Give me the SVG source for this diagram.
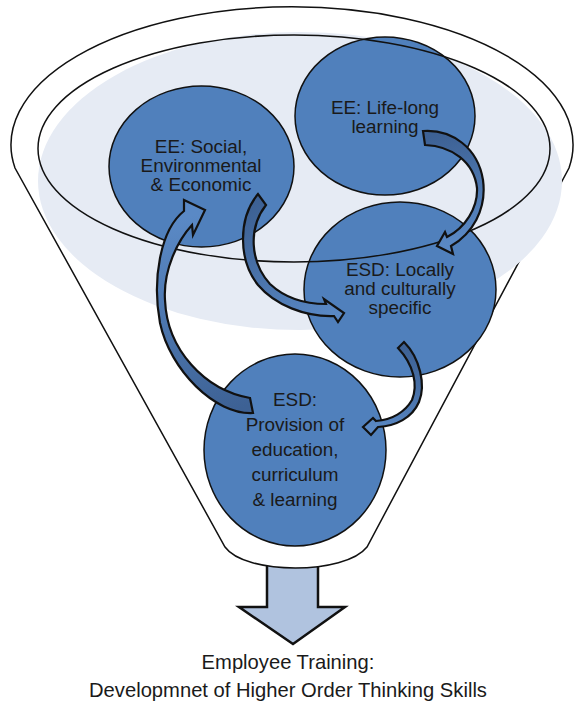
<svg xmlns="http://www.w3.org/2000/svg" width="575" height="703" viewBox="0 0 575 703">
<style>
.outline{fill:none;stroke:#111;stroke-width:1.5}
.node{fill:#5080bc;stroke:#111;stroke-width:1.5}
.arrow{stroke:#111;stroke-width:2.2;stroke-linejoin:miter}
.t{font-family:"Liberation Sans",Arial,sans-serif;font-size:18.9px;fill:#1a1a1a;text-anchor:middle}
.cap{font-family:"Liberation Sans",Arial,sans-serif;font-size:20.2px;fill:#1a1a1a;text-anchor:middle}
</style>
<defs>
<linearGradient id="g1" gradientUnits="userSpaceOnUse" x1="425" y1="138" x2="445" y2="245"><stop offset="0" stop-color="#3d6194"/><stop offset="1" stop-color="#5a89c5"/></linearGradient>
<linearGradient id="g2" gradientUnits="userSpaceOnUse" x1="262" y1="200" x2="340" y2="312"><stop offset="0" stop-color="#3d6194"/><stop offset="1" stop-color="#5a89c5"/></linearGradient>
<linearGradient id="g3" gradientUnits="userSpaceOnUse" x1="252" y1="405" x2="195" y2="215"><stop offset="0" stop-color="#3d6194"/><stop offset="1" stop-color="#5a89c5"/></linearGradient>
<linearGradient id="g4" gradientUnits="userSpaceOnUse" x1="401" y1="345" x2="368" y2="427"><stop offset="0" stop-color="#3d6194"/><stop offset="1" stop-color="#5a89c5"/></linearGradient>
</defs>

<g id="spout">
<path d="M267,560 L267,607 L239,607 L293,644 L345,607 L318,607 L318,560 Z" fill="#b0c3df" stroke="#111" stroke-width="2.5" stroke-linejoin="miter"/>
</g>

<g id="funnel">
<path d="M15,168 A281,138 0 1 1 569,168 L367,547 C345,575 245,575 225,547 Z" fill="#fff" stroke="#111" stroke-width="1.5"/>
<ellipse cx="300" cy="181" rx="262" ry="149" fill="#e6ebf4"/>
</g>

<g id="node-social">
<ellipse class="node" cx="201.5" cy="166.5" rx="92.5" ry="80.5"/>
</g>
<g id="node-lifelong">
<ellipse class="node" cx="385" cy="116" rx="90" ry="79"/>
</g>
<g id="node-local">
<ellipse class="node" cx="400" cy="289.5" rx="96" ry="87.5"/>
</g>
<g id="node-provision">
<ellipse class="node" cx="295" cy="450" rx="91" ry="96"/>
</g>

<ellipse id="rim" class="outline" cx="294" cy="148.5" rx="256" ry="113.5"/>

<g id="connectors">
<path class="arrow" fill="url(#g1)" d="M423,131 C452,129 478,148 483,180 C487,210 472,234 451,246 L453,254 L437,246 L445,232 L447,237 C465,228 478,208 477,188 C474,162 452,146 425,145 Z"/>
<path class="arrow" fill="url(#g2)" d="M266,205 C248,228 250,262 270,284 C285,298 305,304 326,304 L324,299 L344,313 L338,322 L334,316 C305,317 275,305 258,285 C238,260 238,218 258,194 Z"/>
<path class="arrow" fill="url(#g3)" d="M250,398 L253,413 C215,415 170,370 160,323 C152,280 160,230 184,211 L184,200 L205,210 L193,235 L192,225 C178,240 163,270 165,300 C167,350 205,390 250,398 Z"/>
<path class="arrow" fill="url(#g4)" d="M398,348 L404,342 C420,358 426,385 419,402 C412,418 396,426 378,427 L371,435 L363,427 L373,418 L376,421 C392,420 405,412 412,400 C418,385 414,365 398,348 Z"/>
</g>

<g id="labels">
<text class="t" x="385" y="114">EE: Life-long</text>
<text class="t" x="385" y="133">learning</text>
<text class="t" x="201" y="153">EE: Social,</text>
<text class="t" x="201" y="172">Environmental</text>
<text class="t" x="201" y="191">&amp; Economic</text>
<text class="t" x="400" y="276">ESD: Locally</text>
<text class="t" x="400" y="295">and culturally</text>
<text class="t" x="400" y="314">specific</text>
<text class="t" x="295" y="406">ESD:</text>
<text class="t" x="295" y="431">Provision of</text>
<text class="t" x="295" y="456">education,</text>
<text class="t" x="295" y="481">curriculum</text>
<text class="t" x="295" y="506">&amp; learning</text>
<text class="cap" x="288" y="669">Employee Training:</text>
<text class="cap" x="288" y="697">Developmnet of Higher Order Thinking Skills</text>
</g>
</svg>
